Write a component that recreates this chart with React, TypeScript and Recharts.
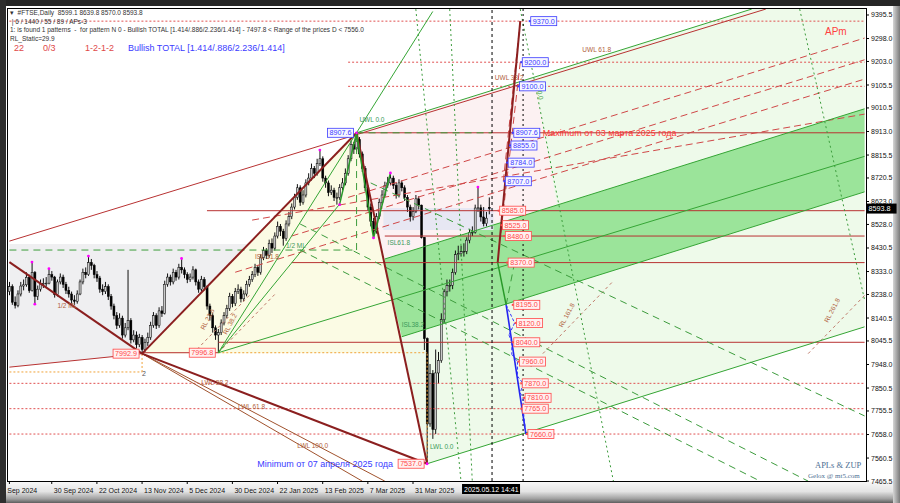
import React from "react";
import {
  ComposedChart,
  Bar,
  Area,
  XAxis,
  YAxis,
  ReferenceLine,
  ReferenceArea,
  ReferenceDot,
} from "recharts";

const FONT = '"Liberation Sans", Arial, sans-serif';

// #FTSE daily candles, 9 Sep 2024 .. 12 May 2025 : [open, high, low, close]
const ohlc: number[][] = [
  [8250, 8290, 8235, 8270], [8270, 8280, 8195, 8206], [8206, 8230, 8180, 8193], [8193, 8255, 8185, 8240],
  [8240, 8290, 8230, 8273], [8273, 8300, 8255, 8278], [8278, 8330, 8270, 8309], [8309, 8320, 8245, 8254],
  [8254, 8372, 8250, 8329], [8329, 8335, 8198, 8230], [8230, 8275, 8215, 8260], [8260, 8300, 8250, 8282],
  [8282, 8305, 8265, 8284], [8284, 8310, 8270, 8285], [8285, 8345, 8280, 8320], [8320, 8335, 8295, 8310],
  [8310, 8315, 8225, 8237], [8237, 8300, 8230, 8290], [8290, 8325, 8280, 8310], [8310, 8320, 8265, 8280],
  [8280, 8290, 8240, 8255], [8255, 8270, 8225, 8240], [8240, 8250, 8200, 8215], [8215, 8235, 8195, 8210],
  [8210, 8255, 8200, 8240], [8240, 8300, 8235, 8290], [8290, 8345, 8280, 8330], [8330, 8350, 8305, 8320],
  [8320, 8397, 8315, 8370], [8370, 8385, 8340, 8358], [8358, 8365, 8305, 8320], [8320, 8335, 8290, 8306],
  [8306, 8315, 8245, 8260], [8260, 8280, 8235, 8250], [8250, 8290, 8240, 8270], [8270, 8280, 8215, 8230],
  [8230, 8240, 8175, 8190], [8190, 8200, 8135, 8150], [8150, 8165, 8095, 8110], [8110, 8160, 8100, 8140],
  [8140, 8150, 8055, 8070], [8070, 8120, 8060, 8100], [8100, 8340, 8090, 8130], [8130, 8140, 8035, 8050],
  [8050, 8090, 8040, 8070], [8070, 8085, 8015, 8030], [8030, 8075, 8020, 8060], [8060, 8070, 7993, 8010],
  [8010, 8055, 8000, 8040], [8040, 8080, 8025, 8060], [8060, 8125, 8050, 8110], [8110, 8165, 8100, 8150],
  [8150, 8160, 8095, 8110], [8110, 8185, 8100, 8170], [8170, 8190, 8145, 8160], [8160, 8295, 8155, 8280],
  [8280, 8325, 8270, 8310], [8310, 8320, 8275, 8290], [8290, 8345, 8280, 8330], [8330, 8340, 8295, 8310],
  [8310, 8365, 8300, 8350], [8350, 8387, 8325, 8340], [8340, 8350, 8305, 8320], [8320, 8330, 8285, 8300],
  [8300, 8325, 8290, 8310], [8310, 8355, 8300, 8340], [8340, 8345, 8275, 8290], [8290, 8300, 8245, 8260],
  [8260, 8315, 8250, 8300], [8300, 8310, 8255, 8270], [8270, 8275, 8175, 8190], [8190, 8200, 8130, 8150],
  [8150, 8160, 8080, 8100], [8100, 8110, 8050, 8070], [8070, 8095, 7997, 8080], [8080, 8135, 8070, 8120],
  [8120, 8165, 8110, 8150], [8150, 8195, 8140, 8180], [8180, 8245, 8170, 8230], [8230, 8240, 8185, 8200],
  [8200, 8265, 8190, 8250], [8250, 8280, 8240, 8260], [8260, 8270, 8205, 8220], [8220, 8255, 8210, 8240],
  [8240, 8295, 8230, 8280], [8280, 8315, 8270, 8300], [8300, 8335, 8290, 8320], [8320, 8365, 8310, 8350],
  [8350, 8360, 8315, 8330], [8330, 8405, 8320, 8390], [8390, 8435, 8380, 8420], [8420, 8430, 8385, 8400],
  [8400, 8465, 8390, 8450], [8450, 8470, 8410, 8430], [8430, 8495, 8420, 8480], [8480, 8540, 8470, 8520],
  [8520, 8530, 8480, 8500], [8500, 8510, 8440, 8470], [8470, 8545, 8460, 8530], [8530, 8580, 8520, 8560],
  [8560, 8615, 8550, 8600], [8600, 8655, 8590, 8640], [8640, 8695, 8630, 8680], [8680, 8690, 8605, 8620],
  [8620, 8670, 8610, 8650], [8650, 8715, 8640, 8700], [8700, 8740, 8690, 8720], [8720, 8780, 8710, 8760],
  [8760, 8770, 8720, 8740], [8740, 8800, 8730, 8780], [8780, 8836, 8770, 8800], [8800, 8810, 8705, 8720],
  [8720, 8730, 8680, 8700], [8700, 8710, 8645, 8660], [8660, 8690, 8650, 8670], [8670, 8680, 8625, 8640],
  [8640, 8660, 8610, 8640], [8640, 8695, 8630, 8680], [8680, 8720, 8670, 8700], [8700, 8760, 8690, 8740],
  [8740, 8815, 8730, 8800], [8800, 8875, 8790, 8860], [8860, 8870, 8820, 8840], [8840, 8907.6, 8830, 8880],
  [8880, 8890, 8805, 8820], [8820, 8830, 8745, 8760], [8760, 8770, 8665, 8680], [8680, 8690, 8585, 8600],
  [8600, 8615, 8520, 8540], [8540, 8555, 8472, 8500], [8500, 8575, 8490, 8560], [8560, 8635, 8550, 8620],
  [8620, 8670, 8610, 8650], [8650, 8705, 8640, 8690], [8690, 8725, 8680, 8700], [8700, 8741, 8690, 8720],
  [8720, 8730, 8675, 8690], [8690, 8700, 8635, 8650], [8650, 8715, 8640, 8700], [8700, 8710, 8665, 8680],
  [8680, 8690, 8625, 8640], [8640, 8650, 8580, 8600], [8600, 8610, 8540, 8560], [8560, 8600, 8545, 8582],
  [8582, 8650, 8575, 8634], [8634, 8645, 8590, 8608], [8608, 8610, 8470, 8474], [8474, 8476, 8008, 8055],
  [8055, 8060, 7537, 7702], [7702, 7950, 7690, 7910], [7910, 7925, 7640, 7679], [7679, 8010, 7660, 7913],
  [7913, 8000, 7870, 7964], [7964, 8160, 7955, 8134], [8134, 8260, 8120, 8249], [8249, 8300, 8230, 8275],
  [8275, 8300, 8250, 8276], [8276, 8345, 8260, 8329], [8329, 8420, 8320, 8403], [8403, 8440, 8380, 8407],
  [8407, 8440, 8395, 8415], [8415, 8450, 8395, 8417], [8417, 8475, 8405, 8463], [8463, 8510, 8450, 8494],
  [8494, 8520, 8480, 8496], [8496, 8610, 8490, 8596], [8596, 8683, 8580, 8597], [8597, 8610, 8540, 8559],
  [8559, 8600, 8520, 8531], [8531, 8580, 8520, 8554], [8599.1, 8639.8, 8570.0, 8593.8],
];

const totalSlots = 304; // bars incl. empty space right of the last candle
const cursorIdx = 171;
const cursorIdx2 = 182;
const lastPrice = 8593.8;

const dateTicks = [0, 15, 31, 47, 63, 79, 95, 111, 127, 143];
const dateLabels = [
  "9 Sep 2024", "30 Sep 2024", "22 Oct 2024", "13 Nov 2024", "5 Dec 2024",
  "30 Dec 2024", "22 Jan 2025", "13 Feb 2025", "7 Mar 2025", "31 Mar 2025",
];
const priceTicks = [
  9395.5, 9298.0, 9203.0, 9105.5, 9010.5, 8913.0, 8815.5, 8720.5, 8623.0, 8528.0, 8430.5,
  8333.0, 8238.0, 8140.5, 8045.5, 7948.0, 7850.5, 7755.5, 7658.0, 7560.5, 7465.5,
];
const yMin = 7465.5;
const yMax = 9420.3;

// filled zones: anchor bar index with [low, high] price
const grayIdx = [0, 47, 85];
const grayLo = [7937, 7993, 8447];
const grayHi = [8447, 8447, 8447];
const creamIdx = [47, 123, 140];
const creamLo = [7993, 7996, 7996];
const creamHi = [7993, 8907.6, 7996];
const greenIdx = [123, 148, 186, 303];
const greenLo = [8907.6, 7537, 7675, 8104];
const greenHi = [8907.6, 8999, 9138, 9566];
const pinkIdx = [123, 133, 186, 194];
const pinkLo = [8907.6, 8385, 8579, 8608];
const pinkHi = [8907.6, 8944, 9138, 8608];
const bandIdx = [133, 139, 303];
const bandLo = [8360, 8063, 8663];
const bandHi = [8385, 8407, 9007];

// line segments [bar1, price1, bar2, price2]
const thickRed = [
  [0, 8372, 47, 7992.9], [47, 7992.9, 123, 8907.6], [123, 8907.6, 148, 7537], [47, 7992.9, 148, 7537],
  [173, 8370, 181, 9370],
];
const redSolid = [
  [0, 7937, 47, 7992.9], [47, 7996.8, 74, 7996.8], [0, 8459, 268, 9420],
  [123, 8907.6, 303, 8907.6], [70, 8585, 303, 8585], [133, 8480, 303, 8480],
  [100, 8370, 303, 8370], [74, 8040, 303, 8040],
];
const redDotted = [
  [0, 9370, 303, 9370], [120, 9200, 303, 9200], [120, 9100, 303, 9100],
  [0, 7870, 303, 7870], [0, 7765, 303, 7765], [0, 7660, 303, 7660],
];
const redDashed = [
  [120, 8640, 303, 9300], [100, 8480, 303, 9210], [80, 8330, 303, 9130], [86, 8546, 303, 8985],
  [181, 9370, 175, 8707], [181, 9200, 174, 8480],
];
const greenSolid = [
  [123, 8907.6, 263, 9420], [148, 7537, 303, 8104], [74, 7996.8, 303, 8810],
  [74, 7996.8, 150, 9410], [74, 7996.8, 117, 8612], [133, 8385, 303, 9007], [139, 8063, 303, 8663],
];
const greenZig = [
  [117, 8612, 123, 8907.6], [123, 8907.6, 129, 8472], [129, 8472, 135, 8741], [173, 8370, 176, 8195],
];
const greenDashed = [
  [0, 8422, 123, 8422], [123, 8422, 123, 8907.6], [123, 8907.6, 171, 8907.6],
  [103, 8530, 283, 7465], [103, 8422, 266, 7465], [128, 8700, 303, 7735], [176, 8195, 179, 8370],
];
const greenDotted = [
  [144, 9420, 160, 7465], [156, 9420, 164, 7465], [181, 9420, 214, 7465], [280, 9420, 303, 8215],
];
const orangeDotted = [
  [0, 7917, 47, 7917], [47, 7917, 47, 7993], [74, 7996.8, 148, 7996.8], [148, 7537, 148, 7996.8],
];
const brownThin = [[47, 7992.9, 125, 7465], [47, 7992.9, 133, 7465]];
const brownDashed = [
  [65, 7993, 85, 8234], [74, 7997, 94, 8238], [189, 7993, 214, 8294], [283, 7993, 303, 8234],
];
const blueSolid = [[176, 8195, 183, 7660]];
const blueZig = [
  [176, 8195, 179, 8120], [179, 8120, 177, 8070], [177, 8070, 178, 8040], [178, 8040, 178, 7990],
  [178, 7990, 180, 7960], [180, 7960, 180, 7900], [180, 7900, 182, 7870], [182, 7870, 181, 7830],
  [181, 7830, 182, 7810], [182, 7810, 182, 7765], [182, 7765, 183, 7660],
];

// price boxes
const blueBoxIdx = [184, 181, 180, 178, 177, 176, 175];
const blueBoxPrice = [9370, 9200, 9100, 8907.6, 8855, 8784, 8707];
const redBoxIdx = [173, 174, 175, 176, 178, 179, 178, 180, 181, 182, 181, 183];
const redBoxPrice = [8585, 8525, 8480, 8370, 8195, 8120, 8040, 7960, 7870, 7810, 7765, 7660];
const pivotIdx = [47, 74, 123, 148];
const pivotPrice = [7992.9, 7996.8, 8907.6, 7537.0];

const fractalIdx = [8, 9, 14, 28, 61, 110, 117, 123, 129, 135, 148, 166];
const fractalPrice = [8372, 8198, 8345, 8397, 8387, 8836, 8610, 8907.6, 8472, 8741, 7537, 8683];

const brownCaptions: [string, number, number][] = [
  ["1/2 ML", 17, 8182], ["ISL 61.8", 87, 8385], ["UWL 38.2", 172, 9126], ["UWL 61.8", 203, 9242],
  ["LWL 38.2", 68, 7863], ["LWL 61.8", 81, 7764], ["LWL 100.0", 102, 7602],
];
const greenCaptions: [string, number, number][] = [
  ["UWL 0.0", 124, 8952], ["1/2 ML", 98, 8430], ["ISL61.8", 134, 8443], ["ISL38.2", 139, 8103],
  ["LWL 0.0", 149, 7600],
];
const rotatedCaptions: [string, number, number][] = [
  ["RL 23.6", 69, 8090], ["RL 38.2", 77, 8070], ["RL 161.8", 196, 8100], ["RL 261.8", 290, 8120],
];

const rows = Array.from({ length: totalSlots }, (_, i) => {
  const k = ohlc[i];
  const row: Record<string, any> = { i };
  if (k) {
    row.o = k[0];
    row.h = k[1];
    row.l = k[2];
    row.c = k[3];
    row.range = [k[2], k[1]];
  }
  return row;
});

const zones = [
  { key: "gray", idx: grayIdx, lo: grayLo, hi: grayHi, fill: "#efeff1" },
  { key: "cream", idx: creamIdx, lo: creamLo, hi: creamHi, fill: "#fbfbe4" },
  { key: "green", idx: greenIdx, lo: greenLo, hi: greenHi, fill: "#eefaea" },
  { key: "pink", idx: pinkIdx, lo: pinkLo, hi: pinkHi, fill: "#fcf1f2" },
  { key: "band", idx: bandIdx, lo: bandLo, hi: bandHi, fill: "#9be49a" },
];
zones.forEach((z) => z.idx.forEach((ix, j) => (rows[ix][z.key] = [z.lo[j], z.hi[j]])));

const Candle = (props: any) => {
  const { x, y, width, height, payload } = props;
  if (!payload || payload.h == null) return null;
  const { o, h, l, c } = payload;
  const top = Math.min(y, y + height);
  const hh = Math.abs(height);
  const cx = x + width / 2;
  const py = (p: number) => top + ((h - p) / (h - l || 1)) * hh;
  const b1 = py(Math.max(o, c));
  const b2 = py(Math.min(o, c));
  return (
    <g>
      <line x1={cx} x2={cx} y1={top} y2={top + hh} stroke="#111" strokeWidth={1} />
      <rect
        x={cx - 1}
        y={b1}
        width={2}
        height={Math.max(0.8, b2 - b1)}
        fill={c >= o ? "#c9c9c9" : "#000"}
        stroke="#000"
        strokeWidth={0.5}
      />
    </g>
  );
};

const DateTick = (p: any) => {
  const { x, y, payload } = p;
  const k = dateTicks.indexOf(payload.value);
  return (
    <g>
      <line x1={x} x2={x} y1={y} y2={y + 3} stroke="#000" />
      <text x={x + 2 - (k === 0 ? 10 : 0)} y={y + 12} fontSize={7} fill="#111" fontFamily={FONT}>
        {dateLabels[k]}
      </text>
    </g>
  );
};

const PriceTick = (p: any) => {
  const { x, y, payload } = p;
  return (
    <g>
      <line x1={x} x2={x + 3} y1={y} y2={y} stroke="#000" />
      <text x={x + 5} y={y + 2.5} fontSize={7} fill="#111" fontFamily={FONT}>
        {Number(payload.value).toFixed(1)}
      </text>
    </g>
  );
};

const priceBox = (text: string, blue: boolean, side: "left" | "right") => (p: any) => {
  const { cx, cy } = p;
  const w = 26;
  const h = 9;
  const x0 = side === "right" ? cx + 2 : cx - w - 3;
  const stroke = blue ? "#3b3bff" : "#ff4848";
  const fill = blue ? "#f6f6ff" : "#fff0f0";
  return (
    <g>
      {side === "right" && <rect x={x0 - 2} y={cy - 1} width={2} height={2} fill={stroke} />}
      <rect x={x0} y={cy - h / 2} width={w} height={h} fill={fill} stroke={stroke} strokeWidth={0.8} />
      <text x={x0 + w / 2} y={cy + 2.6} textAnchor="middle" fontSize={7.2} fill={stroke} fontFamily={FONT}>
        {text}
      </text>
    </g>
  );
};

const caption = (text: string, color: string, rotate = 0, size = 6.5) => (p: any) => (
  <text
    x={p.cx}
    y={p.cy}
    fontSize={size}
    fill={color}
    fontFamily={FONT}
    transform={rotate ? `rotate(${rotate} ${p.cx} ${p.cy})` : undefined}
  >
    {text}
  </text>
);

const segLines = (segs: number[][], stroke: string, width: number, dash?: string, prefix = "s") =>
  segs.map((s, k) => (
    <ReferenceLine
      key={`${prefix}${k}`}
      segment={[
        { x: s[0], y: s[1] },
        { x: s[2], y: s[3] },
      ]}
      stroke={stroke}
      strokeWidth={width}
      strokeDasharray={dash}
      ifOverflow="hidden"
    />
  ));

export default function App() {
  return (
    <div style={{ position: "absolute", left: 0, top: 0, width: 900, height: 503, background: "#fff", overflow: "hidden" }}>
      <div style={{ position: "absolute", left: 0, top: 482, width: 900, height: 21, background: "linear-gradient(#f7f7f7 0%, #e4e4e4 45%, #a0a0a0 80%, #5e5e5e 100%)" }} />
      <div style={{ position: "absolute", left: 893, top: 0, width: 7, height: 503, background: "linear-gradient(to right, #d5d5d5, #7a7a7a)" }} />
      <div style={{ position: "absolute", left: 0, top: 0 }}>
        <ComposedChart width={900} height={503} data={rows} margin={{ top: 9, right: 0, bottom: 0, left: 8 }} barCategoryGap={0}>
          <XAxis
            dataKey="i"
            type="category"
            ticks={dateTicks}
            interval={0}
            tick={<DateTick />}
            tickLine={false}
            axisLine={false}
            tickSize={0}
            tickMargin={0}
            height={22}
          />
          <YAxis
            orientation="right"
            type="number"
            domain={[yMin, yMax]}
            allowDataOverflow
            ticks={priceTicks}
            interval={0}
            tick={<PriceTick />}
            tickLine={false}
            axisLine={false}
            tickSize={0}
            tickMargin={0}
            width={34}
          />
          {zones.map((z) => (
            <Area
              key={z.key}
              dataKey={z.key}
              type="linear"
              connectNulls
              stroke="none"
              fill={z.fill}
              fillOpacity={1}
              dot={false}
              activeDot={false}
              isAnimationActive={false}
            />
          ))}
          <ReferenceArea x1={133} x2={171} y1={8505} y2={8596} fill="#e7e7f3" fillOpacity={1} stroke="none" />

          {segLines(orangeDotted, "#f0a238", 1, "2 2", "or")}
          {segLines(redDotted, "#e05050", 1, "2 2", "rd")}
          {segLines(redSolid, "#b83232", 1, undefined, "rs")}
          {segLines(redDashed, "#d04848", 1, "7 4", "rdd")}
          {segLines(brownThin, "#a0522d", 1, undefined, "bt")}
          {segLines(brownDashed, "#c07a6a", 1, "3 3", "bd")}
          {segLines(greenDotted, "#3d9c3d", 1, "2 3", "gd")}
          {segLines(greenDashed, "#3d9c3d", 1, "7 5", "gds")}
          {segLines(greenSolid, "#35a535", 1, undefined, "gs")}
          <ReferenceLine x={cursorIdx} stroke="#000" strokeDasharray="3 3" />
          <ReferenceLine x={cursorIdx2} stroke="#000" strokeDasharray="2 3" />

          <Bar dataKey="range" shape={<Candle />} isAnimationActive={false} />

          {segLines(thickRed, "#8b1f1f", 2, undefined, "tr")}
          {segLines(greenZig, "#2a9a2a", 1.5, undefined, "gz")}
          {segLines(blueSolid, "#2323f0", 1.6, undefined, "bs")}
          {segLines(blueZig, "#3535ff", 1, "3 2", "bz")}

          {fractalIdx.map((ix, k) => (
            <ReferenceDot key={`f${k}`} x={ix} y={fractalPrice[k]} r={1.4} fill="#ff00ff" stroke="none" ifOverflow="visible" />
          ))}
          {blueBoxIdx.map((ix, k) => (
            <ReferenceDot key={`bb${k}`} x={ix} y={blueBoxPrice[k]} r={0} ifOverflow="visible"
              shape={priceBox(blueBoxPrice[k].toFixed(1), true, "right")} />
          ))}
          {redBoxIdx.map((ix, k) => (
            <ReferenceDot key={`rb${k}`} x={ix} y={redBoxPrice[k]} r={0} ifOverflow="visible"
              shape={priceBox(redBoxPrice[k].toFixed(1), false, "right")} />
          ))}
          {pivotIdx.map((ix, k) => (
            <ReferenceDot key={`pv${k}`} x={ix} y={pivotPrice[k]} r={0} ifOverflow="visible"
              shape={priceBox(pivotPrice[k].toFixed(1), k === 2, "left")} />
          ))}
          {brownCaptions.map(([t, ix, pr], k) => (
            <ReferenceDot key={`bc${k}`} x={ix} y={pr} r={0} ifOverflow="visible" shape={caption(t, "#b0603a")} />
          ))}
          {greenCaptions.map(([t, ix, pr], k) => (
            <ReferenceDot key={`gc${k}`} x={ix} y={pr} r={0} ifOverflow="visible" shape={caption(t, "#3b9a5a")} />
          ))}
          {rotatedCaptions.map(([t, ix, pr], k) => (
            <ReferenceDot key={`rc${k}`} x={ix} y={pr} r={0} ifOverflow="visible" shape={caption(t, "#b0603a", -62)} />
          ))}
          <ReferenceDot x={187} y={9080} r={0} ifOverflow="visible" shape={caption("0.0", "#3b9a3b", 78)} />
          <ReferenceDot x={47} y={7900} r={0} ifOverflow="visible" shape={caption("2", "#555", 0, 7)} />
          <ReferenceDot x={189} y={8907.6} r={0} ifOverflow="visible"
            shape={(p: any) => (
              <text x={p.cx} y={p.cy + 3} fontSize={9} fill="#ff3535" fontFamily={FONT}>
                Maximum от 03 марта 2025 года
              </text>
            )} />
          <ReferenceDot x={148} y={7537} r={0} ifOverflow="visible"
            shape={(p: any) => (
              <text x={p.cx - 34} y={p.cy + 3} textAnchor="end" fontSize={9} fill="#3a3aff" fontFamily={FONT}>
                Minimum от 07 апреля 2025 года
              </text>
            )} />
          <ReferenceDot x={303} y={lastPrice} r={0} ifOverflow="visible"
            shape={(p: any) => (
              <g>
                <rect x={p.cx + 2} y={p.cy - 5} width={30} height={10} fill="#000" />
                <text x={p.cx + 4} y={p.cy + 2.6} fontSize={7.2} fill="#fff" fontFamily={FONT}>
                  {lastPrice.toFixed(1)}
                </text>
              </g>
            )} />
          <ReferenceDot x={cursorIdx} y={yMin} r={0} ifOverflow="visible"
            shape={(p: any) => (
              <g>
                <rect x={p.cx - 30} y={p.cy + 3} width={58} height={10} fill="#000" />
                <text x={p.cx - 28} y={p.cy + 10.5} fontSize={7} fill="#fff" fontFamily={FONT}>
                  2025.05.12 14:41
                </text>
              </g>
            )} />
        </ComposedChart>
      </div>

      {/* frame */}
      <div style={{ position: "absolute", left: 7, top: 8, width: 858, height: 472, border: "1px solid #000", pointerEvents: "none" }} />
      <div style={{ position: "absolute", left: 0, top: 0, width: 900, height: 6, background: "#262626" }} />
      <div style={{ position: "absolute", left: 0, top: 0, width: 6, height: 503, background: "#2e2e2e" }} />

      {/* header */}
      <div style={{ position: "absolute", left: 10, top: 9, fontFamily: FONT, fontSize: 6.5, color: "#333", lineHeight: "8.5px", whiteSpace: "pre" }}>
        <div>{"▾  #FTSE,Daily  8599.1 8639.8 8570.0 8593.8"}</div>
        <div>{" | 6 / 1440 / 55 / 89 / APs-3"}</div>
        <div>{"1: is found 1 patterns  -  for pattern N 0 - Bullish TOTAL [1.414/.886/2.236/1.414] - 7497.8 < Range of the prices D < 7556.0"}</div>
        <div>{"RL_Static=29.9"}</div>
      </div>
      <div style={{ position: "absolute", left: 14, top: 43, fontFamily: FONT, fontSize: 9, whiteSpace: "pre" }}>
        <span style={{ color: "#e04848" }}>22</span>
        <span style={{ position: "absolute", left: 29, color: "#e04848" }}>0/3</span>
        <span style={{ position: "absolute", left: 71, color: "#e04848" }}>1-2-1-2</span>
        <span style={{ position: "absolute", left: 114, color: "#3b3bff" }}>Bullish TOTAL [1.414/.886/2.236/1.414]</span>
      </div>
      <div style={{ position: "absolute", left: 825, top: 26, fontFamily: FONT, fontSize: 10, color: "#ff4040" }}>APm</div>
      <div style={{ position: "absolute", left: 815, top: 460, fontFamily: '"Liberation Serif", serif', fontSize: 8.5, color: "#4d6f93", whiteSpace: "pre" }}>APLs &amp; ZUP</div>
      <div style={{ position: "absolute", left: 808, top: 472, fontFamily: '"Liberation Serif", serif', fontSize: 7, color: "#4d6f93", whiteSpace: "pre" }}>Gelox @ mt5.com</div>
    </div>
  );
}
